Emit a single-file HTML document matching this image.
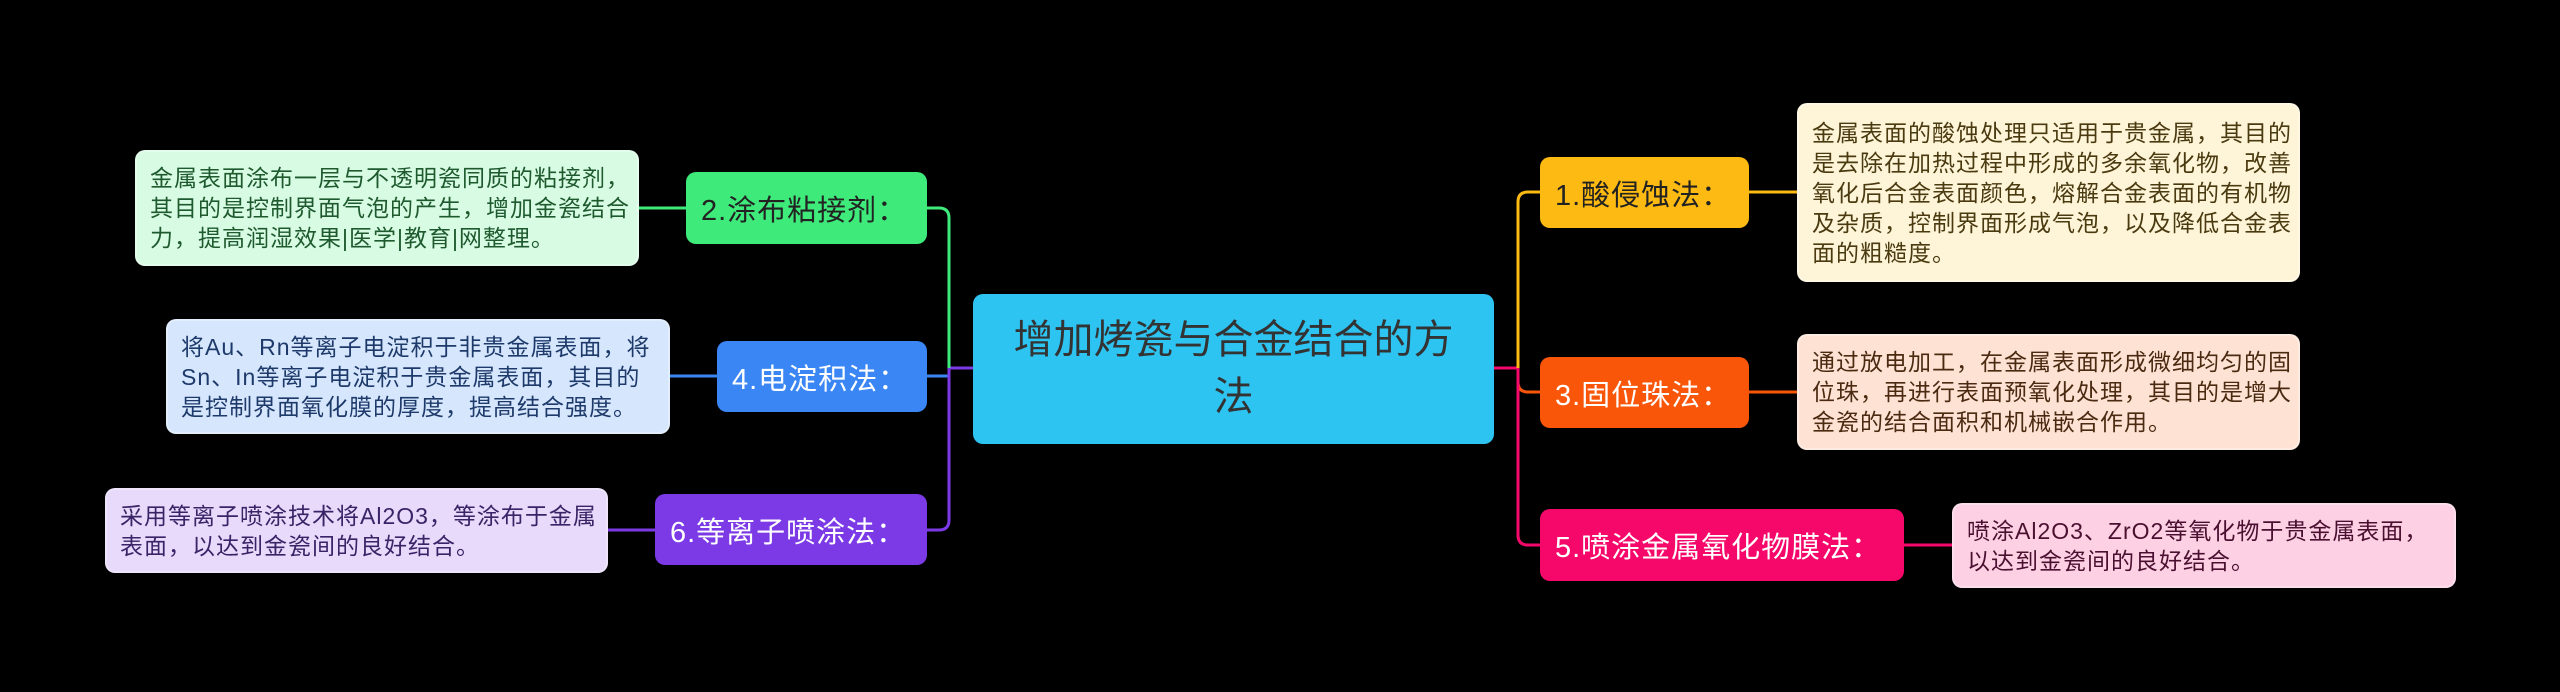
<!DOCTYPE html>
<html><head><meta charset="utf-8"><style>
html,body{margin:0;padding:0;background:#000;}
body{width:2560px;height:692px;position:relative;overflow:hidden;font-family:"Liberation Sans","Noto Sans CJK SC",sans-serif;}
.b{position:absolute;border-radius:10px;display:flex;align-items:center;box-sizing:border-box;}
.br{font-size:29px;letter-spacing:1px;padding-left:15px;white-space:nowrap;}
.lf{font-size:23px;letter-spacing:1px;line-height:30px;padding-left:13px;white-space:nowrap;border:2px solid rgba(255,255,255,.3);}
svg{position:absolute;left:0;top:0;}
</style></head><body>
<svg width="2560" height="692" fill="none" stroke-width="3">
<path d="M973 368 H949" stroke="#7B3AE6"/>
<path d="M949 368 V218 Q949 208 939 208 H927" stroke="#3DEA7A"/>
<path d="M949 372 V376 H927" stroke="#3A86F5"/>
<path d="M949 368 V520 Q949 530 939 530 H927" stroke="#7B3AE6"/>
<path d="M686 208 H639" stroke="#3DEA7A"/>
<path d="M717 376 H670" stroke="#3A86F5"/>
<path d="M655 530 H608" stroke="#7B3AE6"/>
<path d="M1494 368 H1518" stroke="#F5086A"/>
<path d="M1518 368 V202 Q1518 192 1528 192 H1540" stroke="#FDBA12"/>
<path d="M1518 368 V382 Q1518 392 1528 392 H1540" stroke="#F9560A"/>
<path d="M1518 368 V535 Q1518 545 1528 545 H1540" stroke="#F5086A"/>
<path d="M1749 192 H1797" stroke="#FDBA12"/>
<path d="M1749 392 H1797" stroke="#F9560A"/>
<path d="M1904 545 H1952" stroke="#F5086A"/>
</svg>

<div class="b" style="left:973px;top:294px;width:521px;height:150px;background:#2EC4F2;color:#333;font-size:40px;line-height:57px;justify-content:center;text-align:center;">增加烤瓷与合金结合的方<br>法</div>

<div class="b br" style="left:686px;top:172px;width:241px;height:72px;background:#3DEA7A;color:#222;">2.涂布粘接剂：</div>
<div class="b br" style="left:717px;top:341px;width:210px;height:71px;background:#3A86F5;color:#fff;">4.电淀积法：</div>
<div class="b br" style="left:655px;top:494px;width:272px;height:71px;background:#7B3AE6;color:#fff;">6.等离子喷涂法：</div>

<div class="b lf" style="left:135px;top:150px;width:504px;height:116px;background:#D8FBE4;color:#1E5A2E;">金属表面涂布一层与不透明瓷同质的粘接剂，<br>其目的是控制界面气泡的产生，增加金瓷结合<br>力，提高润湿效果|医学|教育|网整理。</div>
<div class="b lf" style="left:166px;top:319px;width:504px;height:115px;background:#D6E7FD;color:#1E3A6A;">将Au、Rn等离子电淀积于非贵金属表面，将<br>Sn、In等离子电淀积于贵金属表面，其目的<br>是控制界面氧化膜的厚度，提高结合强度。</div>
<div class="b lf" style="left:105px;top:488px;width:503px;height:85px;background:#E7DAFB;color:#3A2366;">采用等离子喷涂技术将Al2O3，等涂布于金属<br>表面，以达到金瓷间的良好结合。</div>

<div class="b br" style="left:1540px;top:157px;width:209px;height:71px;background:#FDBA12;color:#222;">1.酸侵蚀法：</div>
<div class="b br" style="left:1540px;top:357px;width:209px;height:71px;background:#F9560A;color:#fff;">3.固位珠法：</div>
<div class="b br" style="left:1540px;top:509px;width:364px;height:72px;background:#F5086A;color:#fff;">5.喷涂金属氧化物膜法：</div>

<div class="b lf" style="left:1797px;top:103px;width:503px;height:179px;background:#FEF5D8;color:#4A3A10;">金属表面的酸蚀处理只适用于贵金属，其目的<br>是去除在加热过程中形成的多余氧化物，改善<br>氧化后合金表面颜色，熔解合金表面的有机物<br>及杂质，控制界面形成气泡，以及降低合金表<br>面的粗糙度。</div>
<div class="b lf" style="left:1797px;top:334px;width:503px;height:116px;background:#FEE2D4;color:#4A2A10;">通过放电加工，在金属表面形成微细均匀的固<br>位珠，再进行表面预氧化处理，其目的是增大<br>金瓷的结合面积和机械嵌合作用。</div>
<div class="b lf" style="left:1952px;top:503px;width:504px;height:85px;background:#FDD0E4;color:#4A1030;">喷涂Al2O3、ZrO2等氧化物于贵金属表面，<br>以达到金瓷间的良好结合。</div>
</body></html>
